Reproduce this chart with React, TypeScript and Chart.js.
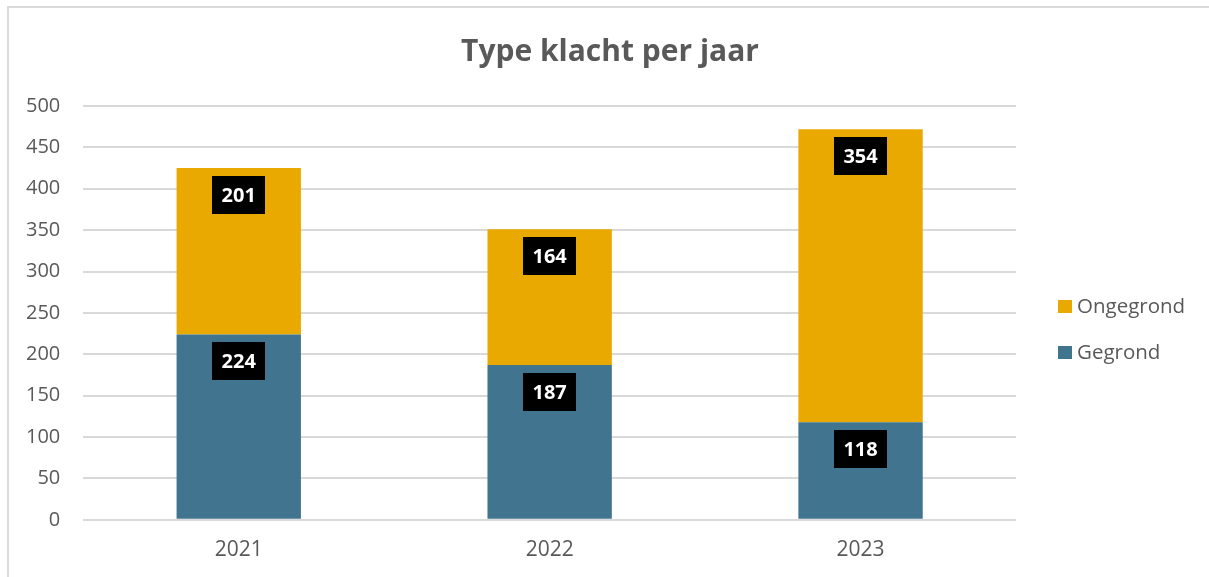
import React, { useEffect, useRef } from "react";
import { Chart, registerables } from "chart.js";

Chart.register(...registerables);

const categories = ["2021", "2022", "2023"];
const gegrond = [224, 187, 118];
const ongegrond = [201, 164, 354];
const seriesNames = ["Gegrond", "Ongegrond"];
const seriesColors = ["#41748E", "#E9A900"];
const titleText = "Type klacht per jaar";

const FONT = "'Open Sans', 'DejaVu Sans', sans-serif";
const TEXT_COLOR = "#595959";

const labelPlugin = {
  id: "boxLabels",
  afterDatasetsDraw(chart: any) {
    const ctx = chart.ctx;
    ctx.save();
    chart.data.datasets.forEach((ds: any, i: number) => {
      const meta = chart.getDatasetMeta(i);
      meta.data.forEach((bar: any, j: number) => {
        const text = String(ds.data[j]);
        ctx.font = `bold 20px ${FONT}`;
        const w = Math.max(53, ctx.measureText(text).width + 14);
        const h = 38;
        const top = bar.y + 8;
        ctx.fillStyle = "#000000";
        ctx.fillRect(Math.round(bar.x - w / 2), Math.round(top), Math.round(w), h);
        ctx.fillStyle = "#ffffff";
        ctx.textAlign = "center";
        ctx.textBaseline = "middle";
        ctx.fillText(text, bar.x, top + h / 2 + 1);
      });
    });
    ctx.restore();
  },
};

const legendPlugin = {
  id: "sideLegend",
  afterDraw(chart: any) {
    const ctx = chart.ctx;
    const area = chart.chartArea;
    ctx.save();
    const items = chart.data.datasets
      .map((ds: any) => ({ label: ds.label, color: ds.backgroundColor }))
      .reverse();
    const x0 = area.right + 42;
    const yStart = area.top + 200.5;
    items.forEach((it: any, k: number) => {
      const cy = yStart + k * 46;
      ctx.fillStyle = it.color;
      ctx.fillRect(x0, Math.round(cy - 6.5), 14, 13);
      ctx.fillStyle = TEXT_COLOR;
      ctx.font = `20.5px ${FONT}`;
      ctx.textAlign = "left";
      ctx.textBaseline = "middle";
      ctx.fillText(it.label, x0 + 19, cy + 1);
    });
    ctx.restore();
  },
};

export default function App() {
  const ref = useRef<HTMLCanvasElement | null>(null);

  useEffect(() => {
    if (!ref.current) return;
    const chart = new Chart(ref.current, {
      type: "bar",
      data: {
        labels: categories,
        datasets: [
          { label: seriesNames[0], data: gegrond, backgroundColor: seriesColors[0], barPercentage: 0.4, categoryPercentage: 1 },
          { label: seriesNames[1], data: ongegrond, backgroundColor: seriesColors[1], barPercentage: 0.4, categoryPercentage: 1 },
        ],
      },
      options: {
        responsive: false,
        animation: false,
        layout: { autoPadding: false, padding: { left: 3, right: -8, top: 0, bottom: -4 } },
        plugins: {
          legend: { display: false },
          tooltip: { enabled: false },
          title: {
            display: true,
            text: titleText,
            color: TEXT_COLOR,
            font: { family: FONT, size: 30, weight: "bold" },
            padding: { top: 34, bottom: 36 },
          },
        },
        scales: {
          x: {
            stacked: true,
            grid: { display: false, drawTicks: false },
            border: { display: false },
            ticks: { color: TEXT_COLOR, font: { family: FONT, size: 21 }, padding: 18 },
          },
          y: {
            stacked: true,
            min: 0,
            max: 500,
            ticks: { stepSize: 50, color: TEXT_COLOR, font: { family: FONT, size: 20 }, padding: 23 },
            grid: { color: "#D9D9D9", lineWidth: 2, drawTicks: false },
            border: { display: false },
          },
          yR: {
            position: "right",
            display: true,
            min: 0,
            max: 1,
            grid: { display: false, drawTicks: false },
            border: { display: false },
            ticks: { display: false },
            afterFit(scale: any) {
              scale.width = 201;
            },
          },
        },
      },
      plugins: [labelPlugin, legendPlugin],
    });
    return () => chart.destroy();
  }, []);

  return (
    <div style={{ position: "fixed", left: 0, top: 0, width: 1209, height: 577, background: "#fff" }}>
      <div
        style={{
          position: "absolute",
          left: 7,
          top: 6,
          right: 0,
          bottom: 0,
          borderTop: "2px solid #D9D9D9",
          borderLeft: "2px solid #D9D9D9",
        }}
      />
      <canvas ref={ref} width={1209} height={577} style={{ position: "absolute", left: 0, top: 0 }} />
    </div>
  );
}
